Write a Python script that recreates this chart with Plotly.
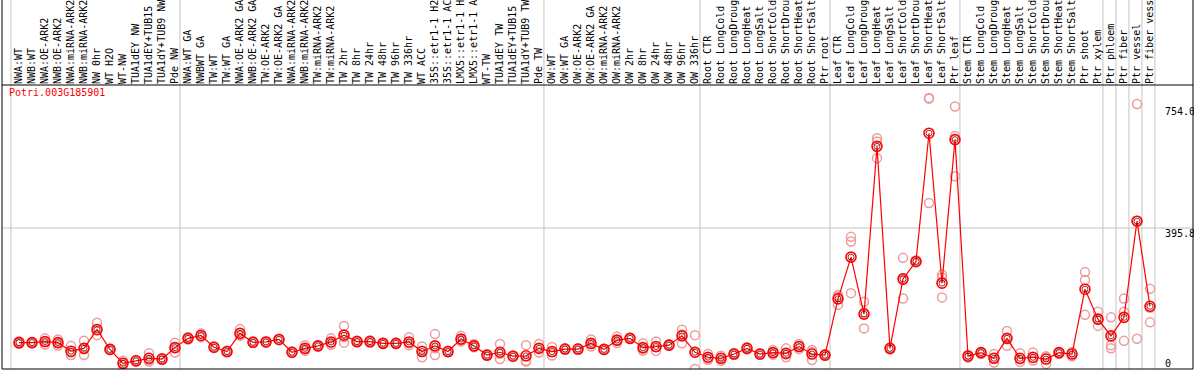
import plotly.graph_objects as go

gene = "Potri.003G185901"

labels = [
    "NWA:WT", "NWB:WT", "NWA:OE-ARK2", "NWB:OE-ARK2", "NWA:miRNA-ARK2", "NWB:miRNA-ARK2",
    "NW 0hr", "WT H2O", "WT-NW", "TUA1dEY NW", "TUA1dEY+TUB15 NW", "TUA1dY+TUB9 NW", "Pde NW",
    "NWA:WT GA", "NWBWT GA", "TW:WT", "TW:WT GA", "NWA:OE-ARK2 GA", "NWB:OE-ARK2 GA",
    "TW:OE-ARK2", "TW:OE-ARK2 GA", "NWA:miRNA-ARK2", "NWB:miRNA-ARK2", "TW:miRNA-ARK2",
    "TW:miRNA-ARK2", "TW 2hr", "TW 8hr", "TW 24hr", "TW 48hr", "TW 96hr", "TW 336hr",
    "WT ACC", "35S::etr1-1 H2O", "35S::etr1-1 ACC", "LMX5::etr1-1 H2O", "LMX5::etr1-1 ACC",
    "WT-TW", "TUA1dEY TW", "TUA1dEY+TUB15 TW", "TUA1dY+TUB9 TW", "Pde TW",
    "OW:WT", "OW:WT GA", "OW:OE-ARK2", "OW:OE-ARK2 GA", "OW:miRNA-ARK2", "OW:miRNA-ARK2",
    "OW 2hr", "OW 8hr", "OW 24hr", "OW 48hr", "OW 96hr", "OW 336hr",
    "Root CTR", "Root LongCold", "Root LongDrought", "Root LongHeat", "Root LongSalt",
    "Root ShortCold", "Root ShortDrought", "Root ShortHeat", "Root ShortSalt", "Ptr root",
    "Leaf CTR", "Leaf LongCold", "Leaf LongDrought", "Leaf LongHeat", "Leaf LongSalt",
    "Leaf ShortCold", "Leaf ShortDrought", "Leaf ShortHeat", "Leaf ShortSalt", "Ptr leaf",
    "Stem CTR", "Stem LongCold", "Stem LongDrought", "Stem LongHeat", "Stem LongSalt",
    "Stem ShortCold", "Stem ShortDrought", "Stem ShortHeat", "Stem ShortSalt", "Ptr shoot",
    "Ptr xylem", "Ptr phloem", "Ptr fiber", "Ptr vessel", "Ptr fiber vessel",
]

means = [
    74, 74, 77, 74, 50, 58, 111, 55, 16, 23, 30, 28, 60,
    86, 94, 61, 49, 100, 75, 76, 83, 47, 58, 65, 76, 95, 77, 77, 72, 72, 76,
    49, 65, 49, 84, 65, 39, 47, 36, 37, 58,
    49, 56, 56, 72, 55, 81, 86, 60, 63, 67, 93, 47,
    33, 30, 42, 58, 42, 46, 44, 63, 42, 39,
    197, 314, 154, 625, 58, 253, 302, 662, 241, 644,
    36, 46, 30, 86, 30, 33, 28, 46, 42, 224, 140,
    93, 145, 415, 176,
]

rep1 = [
    78, 76, 86, 83, 65, 79, 130, 57, 23, 25, 44, 31, 74,
    89, 100, 63, 51, 112, 77, 78, 85, 49, 67, 67, 86, 121, 80, 81, 74, 74, 89,
    63, 98, 51, 93, 70, 41, 70, 38, 67, 70,
    62, 58, 58, 83, 57, 91, 88, 72, 77, 69, 110, 95,
    42, 37, 45, 61, 44, 53, 58, 70, 53, 41,
    208, 371, 189, 648, 60, 312, 305, 761, 265, 737,
    40, 48, 42, 107, 44, 46, 36, 48, 48, 272, 161,
    145, 198, 744, 225,
]

rep2 = [
    74, 74, 76, 73, 46, 56, 108, 55, 14, 23, 25, 28, 60,
    86, 93, 61, 49, 95, 75, 76, 83, 47, 56, 65, 74, 90, 77, 77, 72, 72, 72,
    51, 58, 49, 82, 64, 39, 43, 36, 23, 58,
    47, 56, 56, 70, 55, 79, 86, 57, 61, 67, 97, 46,
    31, 30, 42, 58, 42, 45, 41, 63, 48, 39,
    203, 358, 159, 639, 58, 249, 302, 759, 257, 654,
    36, 46, 30, 86, 27, 30, 34, 46, 42, 250, 138,
    67, 161, 416, 172,
]

rep3 = [
    70, 72, 69, 66, 39, 39, 95, 53, 11, 21, 21, 25, 46,
    83, 89, 59, 47, 93, 73, 74, 81, 45, 51, 63, 68, 74, 74, 73, 70, 70, 67,
    33, 39, 47, 77, 61, 37, 28, 34, 21, 46,
    38, 54, 54, 63, 53, 73, 84, 51, 51, 65, 72, 0,
    26, 23, 39, 55, 40, 40, 33, 56, 25, 37,
    180, 213, 114, 592, 55, 198, 299, 466, 201, 541,
    32, 42, 18, 65, 20, 24, 14, 42, 36, 152, 121,
    58, 79, 85, 131,
]

# first index of each group (vertical separators) and the end
group_starts = [0, 13, 41, 53, 63, 73, 84, 85, 86, 87, 88]

y_ticks = [0, 395.8, 754.0]
y_tick_text = ["0", "395.8", "754.0"]

x = list(range(len(labels)))

fig = go.Figure()

rep_x = x + x + x
rep_y = rep1 + rep2 + rep3
fig.add_trace(go.Scatter(
    x=rep_x, y=rep_y, mode="markers",
    marker=dict(symbol="circle-open", size=9, color="#EC9C9C", line=dict(width=1.5)),
    hoverinfo="skip", showlegend=False,
))
fig.add_trace(go.Scatter(
    x=x, y=means, mode="lines+markers",
    line=dict(color="#FF0000", width=1.2),
    marker=dict(symbol="circle-open", size=10, color="#FF0000", line=dict(width=1.6)),
    showlegend=False,
))
fig.add_trace(go.Scatter(
    x=x, y=means, mode="markers",
    marker=dict(symbol="circle-open", size=6, color="#7A0000", line=dict(width=0.8)),
    hoverinfo="skip", showlegend=False,
))

W, H = 1194, 370
ML, MR, MT, MB = 2, 1, 85, 1
plot_h = H - MT - MB
top_ext = 1 + MT / plot_h

shapes = []
for g in group_starts:
    shapes.append(dict(type="line", xref="x", yref="paper", x0=g - 0.62, x1=g - 0.62,
                       y0=0, y1=top_ext, line=dict(color="#C4C4C4", width=1), layer="below"))
shapes.append(dict(type="line", xref="paper", yref="y", x0=0, x1=1, y0=y_ticks[1], y1=y_ticks[1],
                   line=dict(color="#C4C4C4", width=1), layer="below"))
# frame
blk = dict(color="#000000", width=1)
shapes += [
    dict(type="line", xref="paper", yref="paper", x0=0, x1=0, y0=0, y1=top_ext, line=blk),
    dict(type="line", xref="paper", yref="paper", x0=1, x1=1, y0=0, y1=top_ext, line=blk),
    dict(type="line", xref="paper", yref="paper", x0=0, x1=1, y0=1, y1=1, line=blk),
    dict(type="line", xref="paper", yref="paper", x0=0, x1=1, y0=0, y1=0, line=blk),
]

annotations = [dict(text=gene, xref="paper", yref="paper", x=0.004, y=0.975,
                    xanchor="left", yanchor="middle", showarrow=False,
                    font=dict(family="DejaVu Sans Mono", size=10, color="#FF0000"))]
tick_anchor = ["bottom", "top", "top"]
tick_shift = [-2, 2, -4]
for v, t, a, s in zip(y_ticks, y_tick_text, tick_anchor, tick_shift):
    annotations.append(dict(text=t, xref="paper", yref="y", x=0.9748, y=v,
                            xanchor="left", yanchor=a, yshift=s, showarrow=False,
                            font=dict(family="DejaVu Sans Mono", size=10, color="#000000")))

fig.update_layout(
    width=W, height=H, template="none",
    margin=dict(l=ML, r=MR, t=MT, b=MB, pad=0),
    paper_bgcolor="white", plot_bgcolor="white",
    showlegend=False,
    shapes=shapes, annotations=annotations,
    font=dict(family="DejaVu Sans Mono", size=10, color="#000000"),
    xaxis=dict(range=[-17 / 13, 1174 / 13], side="top", tickmode="array",
               tickvals=x, ticktext=labels, tickangle=-90, showgrid=False,
               zeroline=False, showline=False, ticks="", automargin=False,
               tickfont=dict(family="DejaVu Sans Mono", size=10, color="#000000")),
    yaxis=dict(range=[0, 797.3], showgrid=False, zeroline=False, showline=False,
               showticklabels=False, ticks="", automargin=False),
)

fig.write_html("out.html", config={"displayModeBar": False},
               post_script="document.body.style.margin='0';document.body.style.overflow='hidden';")
